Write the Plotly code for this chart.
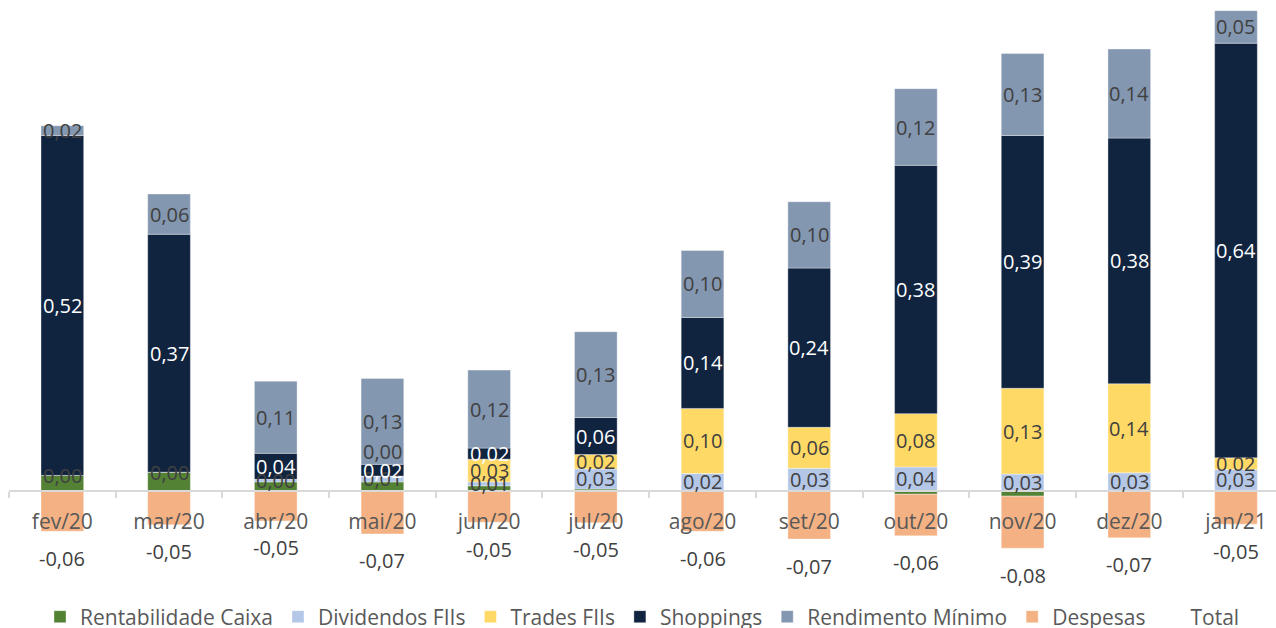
import plotly.graph_objects as go

months = ["fev/20", "mar/20", "abr/20", "mai/20", "jun/20", "jul/20",
          "ago/20", "set/20", "out/20", "nov/20", "dez/20", "jan/21"]

rent_caixa = [0.024, 0.029, 0.014, 0.014, 0.008, 0.003, 0.001, 0.001, -0.005, -0.008, 0.000, 0.001]
dividendos = [0.000, 0.000, 0.004, 0.009, 0.006, 0.031, 0.026, 0.034, 0.037, 0.026, 0.028, 0.032]
trades = [0.000, 0.000, 0.000, 0.000, 0.035, 0.022, 0.100, 0.063, 0.082, 0.132, 0.137, 0.018]
shoppings = [0.523, 0.366, 0.040, 0.018, 0.017, 0.057, 0.140, 0.245, 0.382, 0.389, 0.378, 0.638]
rendimento = [0.015, 0.062, 0.111, 0.132, 0.120, 0.132, 0.103, 0.102, 0.118, 0.126, 0.137, 0.050]
despesas = [-0.062, -0.052, -0.046, -0.066, -0.048, -0.049, -0.062, -0.074, -0.064, -0.080, -0.072, -0.051]
total = [a + b + c + d + e + f for a, b, c, d, e, f in
         zip(rent_caixa, dividendos, trades, shoppings, rendimento, despesas)]

# data-label texts as shown on the chart (None = label not shown)
lbl_rent = [None] * 12
lbl_div = ["0,00", "0,00", "0,00", "0,01", "0,01", "0,03", "0,02", "0,03", "0,04", "0,03", "0,03", "0,03"]
lbl_trades = [None, None, None, "0,00", "0,03", "0,02", "0,10", "0,06", "0,08", "0,13", "0,14", "0,02"]
lbl_shop = ["0,52", "0,37", "0,04", "0,02", "0,02", "0,06", "0,14", "0,24", "0,38", "0,39", "0,38", "0,64"]
lbl_rend = ["0,02", "0,06", "0,11", "0,13", "0,12", "0,13", "0,10", "0,10", "0,12", "0,13", "0,14", "0,05"]
lbl_desp = ["-0,06", "-0,05", "-0,05", "-0,07", "-0,05", "-0,05", "-0,06", "-0,07", "-0,06", "-0,08", "-0,07", "-0,05"]

series = [
    ("Rentabilidade Caixa", rent_caixa, "#548235", lbl_rent, "#404040"),
    ("Dividendos FIIs", dividendos, "#B4C7E7", lbl_div, "#404040"),
    ("Trades FIIs", trades, "#FFD966", lbl_trades, "#404040"),
    ("Shoppings", shoppings, "#10243F", lbl_shop, "#FFFFFF"),
    ("Rendimento Mínimo", rendimento, "#8497B0", lbl_rend, "#404040"),
    ("Despesas", despesas, "#F4B183", None, "#404040"),
]

FONT = "Open Sans"
fig = go.Figure()
annotations = []
pos_base = [0.0] * 12
neg_base = [0.0] * 12
for name, vals, color, labels, tcolor in series:
    fig.add_trace(go.Bar(
        x=months, y=vals, name=name,
        marker=dict(color=color, line=dict(color="rgba(255,255,255,0.6)", width=0.6)),
        hoverinfo="skip",
    ))
    for j, v in enumerate(vals):
        if v >= 0:
            center = pos_base[j] + v / 2
            pos_base[j] += v
        else:
            center = neg_base[j] + v / 2
            neg_base[j] += v
        if labels is not None and labels[j] is not None:
            shift = 0
            if name == "Trades FIIs" and j == 3:
                shift = 25
            annotations.append(dict(
                x=months[j], y=center, xref="x", yref="y", text=labels[j],
                showarrow=False, yshift=shift,
                font=dict(family=FONT, size=20, color=tcolor),
            ))

# Despesas labels below the negative stacks
for j, t in enumerate(lbl_desp):
    annotations.append(dict(
        x=months[j], y=neg_base[j], xref="x", yref="y", text=t,
        showarrow=False, yanchor="middle", yshift=-27,
        font=dict(family=FONT, size=20, color="#404040"),
    ))

fig.add_trace(go.Scatter(
    x=months, y=total, name="Total", mode="lines",
    line=dict(color="rgba(0,0,0,0)", width=2), hoverinfo="skip",
))

W, H = 1276, 628
mt, mb, ml, mr = 0, 0, 9, 0
plot_h = H - mt - mb
px_per_unit = 650.0
zero_px = 491
ymax = (zero_px - mt) / px_per_unit
ymin = -((H - mb) - zero_px) / px_per_unit
x_pos = (0 - ymin) / (ymax - ymin)
legend_y = ((H - mb) - 617) / plot_h

fig.update_layout(
    width=W, height=H,
    margin=dict(l=ml, r=mr, t=mt, b=mb, pad=0, autoexpand=False),
    barmode="relative", bargap=0.6,
    plot_bgcolor="white", paper_bgcolor="white",
    font=dict(family=FONT, size=20, color="#595959"),
    showlegend=True,
    legend=dict(orientation="h", x=0.5, xanchor="center", y=legend_y, yanchor="middle",
                font=dict(family=FONT, size=21, color="#595959"),
                traceorder="normal", itemwidth=30, bgcolor="rgba(0,0,0,0)"),
    xaxis=dict(
        type="category", range=[-0.5, 11.375],
        anchor="free", position=x_pos,
        showline=True, linecolor="#D9D9D9", linewidth=2,
        ticks="outside", tickson="boundaries", ticklen=6, tickwidth=2, tickcolor="#D9D9D9",
        tickfont=dict(family=FONT, size=21, color="#595959"),
        ticklabelstandoff=12,
        showgrid=False, zeroline=False,
    ),
    yaxis=dict(range=[ymin, ymax], visible=False, showgrid=False, zeroline=False),
    annotations=annotations,
)

fig.write_html("out.html")
